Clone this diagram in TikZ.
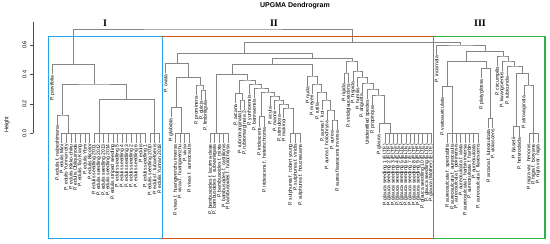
\documentclass[tikz,border=0pt]{standalone}
\usepackage{fontspec}
\newfontfamily\lsans{Liberation Sans}
\newfontfamily\lserif{Liberation Serif}
\usetikzlibrary{calc}
\definecolor{boxblue}{RGB}{40,165,230}
\definecolor{boxorange}{RGB}{210,85,25}
\definecolor{boxgreen}{RGB}{40,180,70}

% leaf hanging below its merge: name, x, merge height, label
\newcommand{\dleaf}[4]{%
  \coordinate (#1) at ({#2},{#3+10});
  \node[lbl] (#1l) at (#1) {#4};
}
% merge of two subtrees: name, left, right, height
\newcommand{\dmerge}[4]{%
  \coordinate (#1m) at ($(#2)!0.5!(#3)$);
  \coordinate (#1) at (#1m |- 0,#4);
  \draw[br] (#2) |- (#1) -| (#3);
}
% comb of leaves at height 0: name, first x, step, count, stem x, labels
\newcommand{\dcomb}[6]{%
  \draw[br] ({#2},133.3) -- ({#2+(#4-1)*#3},133.3);
  \foreach \lb [count=\i] in {#6} {
    \coordinate (#1\i) at ({#2+(\i-1)*#3},143.3);
    \draw[br] ({#2+(\i-1)*#3},133.3) -- (#1\i);
    \node[lbl] (#1l\i) at (#1\i) {\lb};
  }
  \coordinate (#1) at ({#5},133.3);
}

\begin{document}
\begin{tikzpicture}[x=1pt,y=-1pt,
    br/.style={draw=black!48,line width=0.55pt},
    lbl/.style={rotate=90,anchor=east,inner sep=0.8pt,font=\lsans\fontsize{5}{5.5}\selectfont},
    axl/.style={rotate=90,font=\lsans\fontsize{5.5}{6}\selectfont},
    num/.style={font=\lserif\bfseries\fontsize{10}{12}\selectfont},
    frame/.style={line width=1.1pt}]
  \useasboundingbox (0,0) rectangle (550,244);
  % title and group numbers
  \node[font=\lsans\bfseries\fontsize{7}{8}\selectfont] (title) at (295,6) {UPGMA Dendrogram};
  \node[num] (g1) at (105,23) {I};
  \node[num] (g2) at (274,23) {II};
  \node[num] (g3) at (480,23) {III};
  % height axis
  \draw[black!70,line width=0.5pt] (33.3,133.3) -- (33.3,22);
  \foreach \v/\y [count=\k] in {0.0/133.3,0.2/103.9,0.4/74.5,0.6/45.1} {
    \draw[black!70,line width=0.5pt] (33.3,\y) -- (30,\y);
    \node[axl] (tk\k) at (24.5,\y) {\v};
  }
  \node[axl] (hgt) at (7,125) {Height};

  % cluster I
  \dleaf{parv}{52.3}{64.3}{P. parvifolia}
  \dleaf{eda}{57}{115}{P. edulis f. nabeshimana}
  \dcomb{cbe}{61.6}{4.65}{7}{68.3}{P. edulis Mini, P. edulis Yunnan city, P. edulis Kikko-chiku,
    P. edulis Obliquinoda, P. edulis Tao Kiang, P. edulis Ybm, P. edulis Bicolor}
  \dcomb{cbs}{94.2}{4.65}{12}{99}{P. edulis seedling 2011, P. edulis seedling 2012,
    P. edulis seedling 2013, P. edulis seedling 2014, P. edulis striped seedling,
    P. edulis seedling 5, P. edulis seedling 4, P. edulis seedling 3, P. edulis seedling 2,
    P. edulis seedling 6, P. edulis, P. edulis seedling 1}
  \dcomb{cby}{150}{4.65}{3}{154.3}{P. edulis seedling 2010, P. edulis f. tubaeformis,
    P. edulis Yunnan 2018}
  \dmerge{i3}{eda}{cbe}{115}
  \dmerge{i4}{cbs}{cby}{99.3}
  \dmerge{i2}{i3}{i4}{84}
  \dmerge{i1}{parv}{i2}{64.3}

  % cluster II, left part
  \dleaf{ova}{165.7}{63.3}{P. ovata}
  \dleaf{gla}{171}{107.3}{P. glabrata}
  \dcomb{cbv}{175.5}{4.5}{4}{181.5}{P. vivax f. huangwenzhu inversa, P. vivax f. huangwenzhu,
    P. vivax, P. vivax f. aureocaulis}
  \dleaf{pro}{196.5}{85}{P. prominens}
  \dleaf{dul}{201}{90}{P. dulcis}
  \dleaf{fim}{205.5}{90}{P. fimbriligula}
  \dmerge{a5}{dul}{fim}{90}
  \dmerge{a4}{pro}{a5}{85}
  \dmerge{a3}{gla}{cbv}{107.3}
  \dmerge{a2}{a3}{a4}{77.3}
  \dmerge{a1}{ova}{a2}{63.3}

  % cluster II, middle part
  \dcomb{cbb}{210}{4.5}{5}{216.7}{P. bambusoides f. lacrima-deae, P. bambusoides f. subvariegata,
    P. bambusoides f. mixta, P. bambusoides f. castillonis, P. bambusoides f. holochrysa}
  \dleaf{arc}{235.5}{93.3}{P. arcana}
  \dleaf{rm1}{240}{100}{P. rubromarginata1}
  \dleaf{rm2}{244.5}{100}{P. rubromarginata 2}
  \dleaf{yun}{249.5}{84}{P. yunhoensis}
  \dleaf{ban}{254}{88}{P. bannaensis}
  \dleaf{ir1}{259}{116.7}{P. iridescens}
  \dleaf{ir2}{264}{116.7}{P. iridescens f. heterochroma}
  \dleaf{acu}{270}{96}{P. acuta}
  \dleaf{man}{274.5}{100}{P. mannii}
  \dleaf{sti}{279}{104}{P. stimulosa}
  \dleaf{mak}{283.5}{108}{P. makinoi}
  \dcomb{cbu}{290.5}{5}{3}{293}{P. sulphurea f. robert young, P. sulphurea f. viridis,
    P. sulphurea f. houzeauana}
  \dmerge{rmp}{rm1}{rm2}{100}
  \dmerge{c1c}{arc}{rmp}{93.3}
  \dmerge{irp}{ir1}{ir2}{116.7}
  \dmerge{ac1}{mak}{cbu}{108}
  \dmerge{ac2}{sti}{ac1}{104}
  \dmerge{ac3}{man}{ac2}{100}
  \dmerge{ac4}{acu}{ac3}{96}
  \dmerge{ac5}{irp}{ac4}{92}
  \dmerge{ac6}{ban}{ac5}{88}
  \dmerge{c1d}{yun}{ac6}{84}
  \dmerge{c1b}{c1c}{c1d}{80}
  \dmerge{c1}{cbb}{c1b}{74.3}
  \dleaf{nud}{307.5}{76}{P. nuda}
  \dleaf{mey}{312}{84}{P. meyeri}
  \dleaf{rut}{317}{92}{P. rutila}
  \dleaf{koi}{322}{100}{P. aurea f. koi}
  \dleaf{hol}{327}{110}{P. aurea f. holochrysa}
  \dleaf{aur}{332}{120}{P. aurea}
  \dleaf{afi}{337}{120}{P. aurea flavescens inversa}
  \dmerge{au1}{aur}{afi}{120}
  \dmerge{au2}{hol}{au1}{110}
  \dmerge{au3}{koi}{au2}{100}
  \dmerge{au4}{rut}{au3}{92}
  \dmerge{au5}{mey}{au4}{84}
  \dmerge{au6}{nud}{au5}{76}
  \dmerge{c0}{c1}{au6}{64.3}

  % cluster II, right part
  \dleaf{rig}{344}{73}{P. rigida}
  \dleaf{vir}{348.5}{73}{P. viridiglaucescens}
  \dleaf{his}{353}{71}{P. hispida}
  \dleaf{hum}{357.5}{77}{P. humilis}
  \dleaf{ang}{362}{83}{P. angusta}
  \dleaf{uni}{367.5}{89}{Unidentified species}
  \dleaf{prq}{372.5}{95}{P. propinqua}
  \dleaf{glc}{379}{123.3}{P. glauca}
  \dcomb{cbg}{385}{4.18}{12}{390}{P. glauca seedling 1 (ELTE), P. glauca seedling 2 (ELTE),
    P. glauca seedling 3 (ELTE), P. glauca seedling 4 (ELTE), P. glauca seedling 5 (ELTE),
    P. glauca seedling 6 (ELTE), P. glauca seedling 7 (ELTE), P. glauca seedling 8 (ELTE),
    P. glauca seedling 9 (ELTE), P. glauca seedling 10 (ELTE), P. glauca seedling (ELTE),
    P. glauca (Mother) (ELTE)}
  \dmerge{gc}{glc}{cbg}{123.3}
  \dmerge{s1}{prq}{gc}{95}
  \dmerge{s2}{uni}{s1}{89}
  \dmerge{s3}{ang}{s2}{83}
  \dmerge{s4}{hum}{s3}{77}
  \dmerge{s5}{his}{s4}{71}
  \dmerge{rp}{rig}{vir}{73}
  \dmerge{e0}{rp}{s5}{61}
  \dmerge{b0}{c0}{e0}{58.3}
  \dmerge{ii1}{a1}{b0}{53.3}

  % cluster III
  \dleaf{inc}{436.7}{45}{P. incarnata}
  \dleaf{var}{442}{86.7}{P. varioauriculata}
  \dcomb{cba}{447.7}{4.3}{8}{452.3}{P. aureosulcata f. spectabilis, P. aureosulcata f. aureocaulis,
    P. aureosulcata f. pekinensis, P. aureosulcata f. alata, P. aureosulcata f. harbin inversa,
    P. aureosulcata f. harbin, P. aureosulcata, P. aureosulcata f. flavescens}
  \dleaf{pla}{481.7}{68.3}{P. platyglossa}
  \dleaf{lut}{488.3}{118.3}{P. arcana f. luteosulcata}
  \dleaf{vio}{492.7}{118.3}{P. violascens}
  \dleaf{cir}{497.5}{56}{P. circumpilis}
  \dleaf{kwa}{502}{61}{P. kwangsiensis}
  \dleaf{rub}{507}{66}{P. rubicunda}
  \dleaf{bis}{513.5}{126.7}{P. bissetii}
  \dleaf{het}{519}{126.7}{P. heteroclada}
  \dleaf{atr}{524}{85}{P. atrovaginata}
  \dcomb{cbn}{529}{4.5}{3}{533}{P. nigra var. henonis, P. nigra f. boryana, P. nigra var. nigra}
  \dmerge{t4}{var}{cba}{86.7}
  \dmerge{lvp}{lut}{vio}{118.3}
  \dmerge{t5}{pla}{lvp}{68.3}
  \dmerge{t3}{t4}{t5}{61.7}
  \dmerge{bhp}{bis}{het}{126.7}
  \dmerge{nq}{atr}{cbn}{85}
  \dmerge{np}{bhp}{nq}{73.3}
  \dmerge{r3}{rub}{np}{66}
  \dmerge{r2}{kwa}{r3}{61}
  \dmerge{r1}{cir}{r2}{56}
  \dmerge{t2}{t3}{r1}{51.7}
  \dmerge{iii1}{inc}{t2}{45}

  % top of the tree
  \dmerge{top}{ii1}{iii1}{42.5}
  \dmerge{root}{i1}{top}{29}

  % group frames
  \draw[frame,boxblue] (48.3,36.5) rectangle (162.3,238.5);
  \draw[frame,boxorange] (162.3,36.5) -- (433.5,36.5);
  \draw[frame,boxorange] (162.3,238.5) -- (433.5,238.5);
  \draw[frame,boxgreen] (433.5,36.5) rectangle (545,238.3);
\end{tikzpicture}
\end{document}
